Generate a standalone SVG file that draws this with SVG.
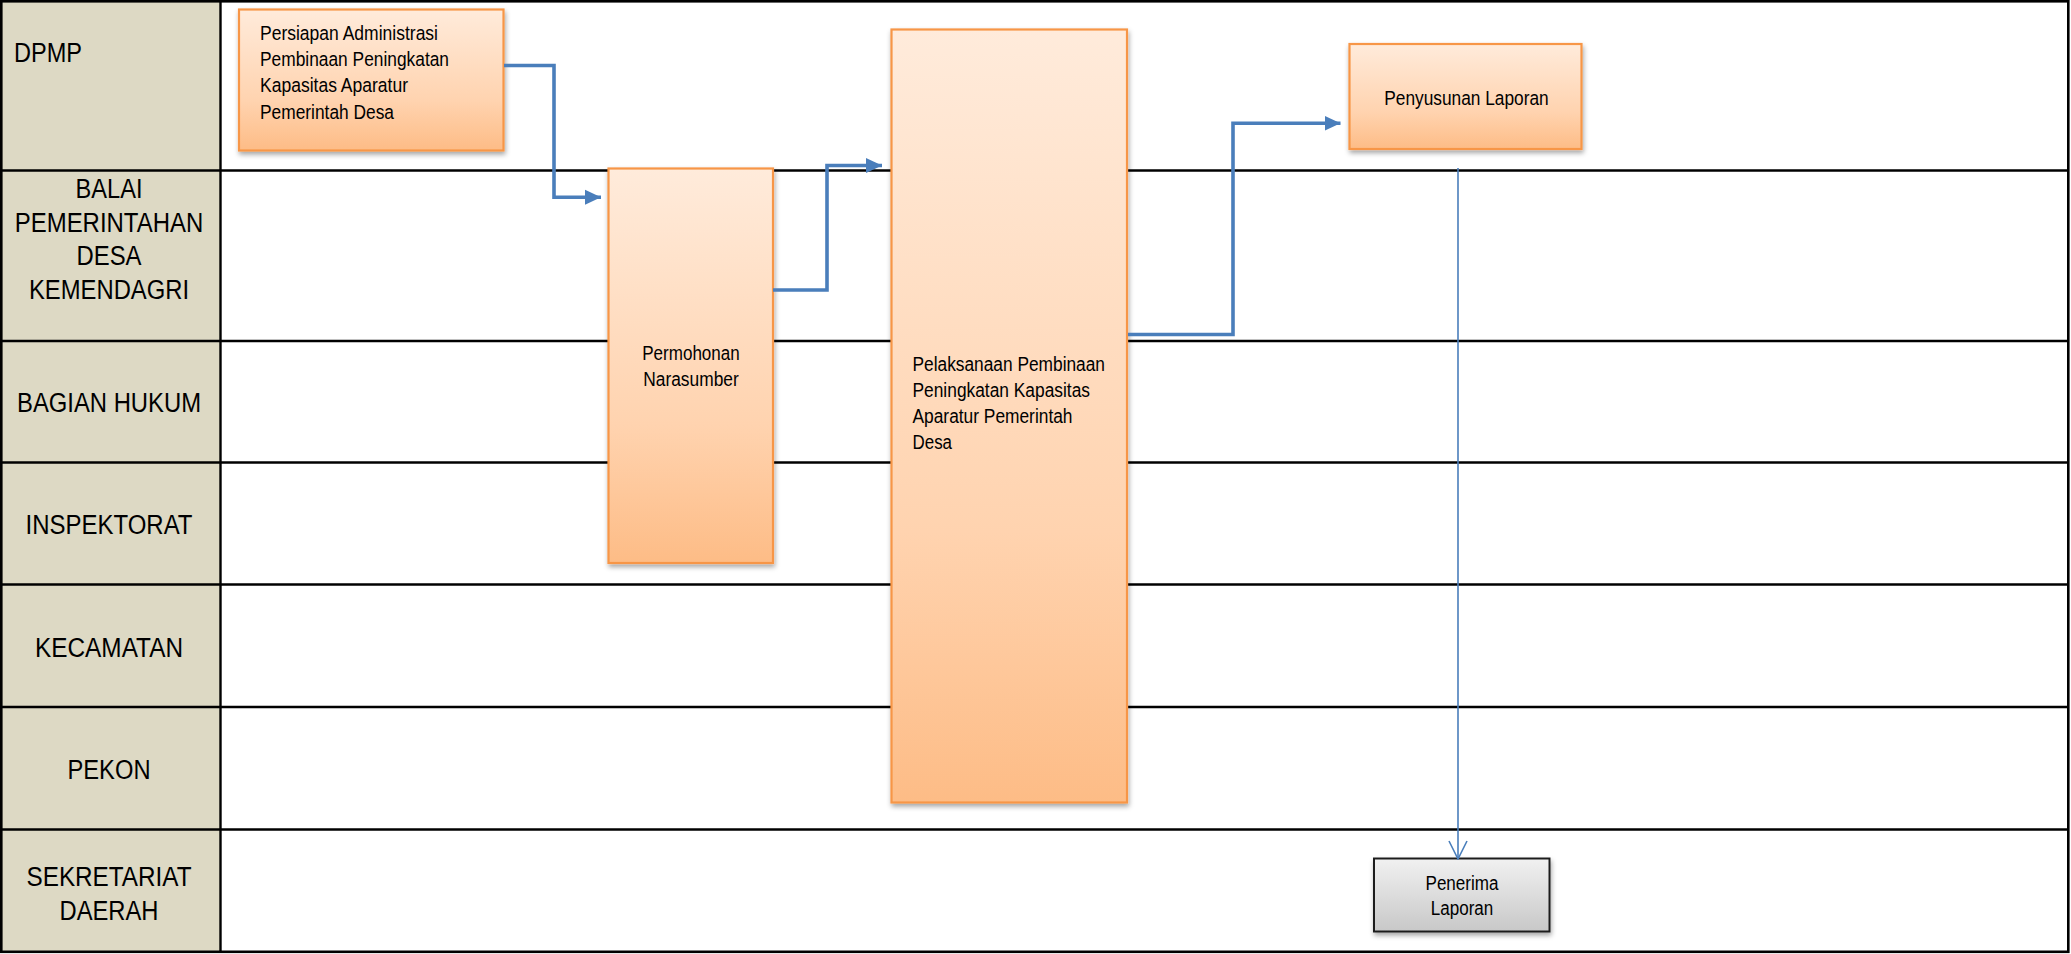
<svg xmlns="http://www.w3.org/2000/svg" width="2071" height="954" viewBox="0 0 2071 954">
<style>
.lane{font-family:"Liberation Sans",Arial,sans-serif;font-size:27px;fill:#000}
.bt{font-family:"Liberation Sans",Arial,sans-serif;font-size:19.5px;fill:#000}
.bl{font-size:20.5px}
.ob{fill:url(#og);stroke:#F79646;stroke-width:2.2}
.gb{fill:url(#gg);stroke:#1e1e1e;stroke-width:2}
.sep{stroke:#000;stroke-width:2.4}
.flow{fill:none;stroke:#4A7EBB;stroke-width:3.6;stroke-linejoin:miter}
.thin{fill:none;stroke:#4A7EBB;stroke-width:1.6}
</style>
<defs>
<linearGradient id="og" x1="0" y1="0" x2="0" y2="1">
<stop offset="0" stop-color="#FFEBDB"/>
<stop offset="0.65" stop-color="#FFD3AF"/>
<stop offset="1" stop-color="#FDBC86"/>
</linearGradient>
<linearGradient id="gg" x1="0" y1="0" x2="0" y2="1">
<stop offset="0" stop-color="#F1F1F1"/>
<stop offset="1" stop-color="#C8C8C8"/>
</linearGradient>
<filter id="sh" x="-10%" y="-10%" width="125%" height="125%">
<feDropShadow dx="1" dy="3" stdDeviation="2.5" flood-color="#000" flood-opacity="0.35"/>
</filter>
<marker id="af" viewBox="0 0 16 16" refX="16" refY="8" markerUnits="userSpaceOnUse" markerWidth="16" markerHeight="16" orient="auto">
<path d="M0,0.5 L16,8 L0,15.5 Z" fill="#4A7EBB"/>
</marker>
<marker id="ao" viewBox="0 0 20 20" refX="19" refY="10" markerUnits="userSpaceOnUse" markerWidth="20" markerHeight="20" orient="auto">
<path d="M1,1 L19,10 L1,19" fill="none" stroke="#4A7EBB" stroke-width="1.6"/>
</marker>
</defs>
<rect x="0" y="0" width="2071" height="954" fill="#fff"/>
<g id="lanes">
<rect x="1" y="1" width="219.5" height="950" fill="#DDD9C4"/>
<line class="sep" x1="0" y1="170.5" x2="2069" y2="170.5"/>
<line class="sep" x1="0" y1="341" x2="2069" y2="341"/>
<line class="sep" x1="0" y1="462.5" x2="2069" y2="462.5"/>
<line class="sep" x1="0" y1="584.5" x2="2069" y2="584.5"/>
<line class="sep" x1="0" y1="707" x2="2069" y2="707"/>
<line class="sep" x1="0" y1="829.5" x2="2069" y2="829.5"/>
<line class="sep" x1="220.5" y1="0" x2="220.5" y2="953"/>
<rect x="1.3" y="1.3" width="2067" height="950.5" fill="none" stroke="#000" stroke-width="2.6"/>
<text class="lane" x="14" y="62" textLength="68" lengthAdjust="spacingAndGlyphs">DPMP</text>
<g text-anchor="middle">
<text class="lane" x="109" y="198" textLength="67" lengthAdjust="spacingAndGlyphs">BALAI</text>
<text class="lane" x="109" y="231.5" textLength="188.5" lengthAdjust="spacingAndGlyphs">PEMERINTAHAN</text>
<text class="lane" x="109" y="265" textLength="65" lengthAdjust="spacingAndGlyphs">DESA</text>
<text class="lane" x="109" y="299" textLength="160" lengthAdjust="spacingAndGlyphs">KEMENDAGRI</text>
<text class="lane" x="109" y="412" textLength="184" lengthAdjust="spacingAndGlyphs">BAGIAN HUKUM</text>
<text class="lane" x="109" y="534" textLength="167" lengthAdjust="spacingAndGlyphs">INSPEKTORAT</text>
<text class="lane" x="109" y="657" textLength="148" lengthAdjust="spacingAndGlyphs">KECAMATAN</text>
<text class="lane" x="109" y="779" textLength="83" lengthAdjust="spacingAndGlyphs">PEKON</text>
<text class="lane" x="109" y="886" textLength="165" lengthAdjust="spacingAndGlyphs">SEKRETARIAT</text>
<text class="lane" x="109" y="919.5" textLength="99" lengthAdjust="spacingAndGlyphs">DAERAH</text>
</g>
</g>
<g id="node-persiapan">
<rect class="ob" x="239" y="9.5" width="264.5" height="141" filter="url(#sh)"/>
<text class="bt bl" x="260" y="39.5" textLength="178" lengthAdjust="spacingAndGlyphs">Persiapan Administrasi</text>
<text class="bt bl" x="260" y="66" textLength="189" lengthAdjust="spacingAndGlyphs">Pembinaan Peningkatan</text>
<text class="bt bl" x="260" y="92" textLength="148" lengthAdjust="spacingAndGlyphs">Kapasitas Aparatur</text>
<text class="bt bl" x="260" y="118.5" textLength="134" lengthAdjust="spacingAndGlyphs">Pemerintah Desa</text>
</g>
<g id="node-permohonan">
<rect class="ob" x="608.5" y="168.5" width="164.5" height="394.5" filter="url(#sh)"/>
<g text-anchor="middle">
<text class="bt" x="691" y="360" textLength="97.5" lengthAdjust="spacingAndGlyphs">Permohonan</text>
<text class="bt" x="691" y="385.5" textLength="95.5" lengthAdjust="spacingAndGlyphs">Narasumber</text>
</g>
</g>
<g id="node-pelaksanaan">
<rect class="ob" x="891.5" y="29.5" width="235.5" height="773" filter="url(#sh)"/>
<text class="bt" x="912.5" y="370.5" textLength="192.5" lengthAdjust="spacingAndGlyphs">Pelaksanaan Pembinaan</text>
<text class="bt" x="912.5" y="396.5" textLength="177.5" lengthAdjust="spacingAndGlyphs">Peningkatan Kapasitas</text>
<text class="bt" x="912.5" y="422.5" textLength="160" lengthAdjust="spacingAndGlyphs">Aparatur Pemerintah</text>
<text class="bt" x="912.5" y="449" textLength="39.5" lengthAdjust="spacingAndGlyphs">Desa</text>
</g>
<g id="node-penyusunan">
<rect class="ob" x="1349.5" y="44" width="232" height="105" filter="url(#sh)"/>
<text class="bt bl" x="1466.5" y="105" text-anchor="middle" textLength="164.5" lengthAdjust="spacingAndGlyphs">Penyusunan Laporan</text>
</g>
<g id="node-penerima">
<rect class="gb" x="1374" y="858.5" width="175.5" height="73" filter="url(#sh)"/>
<g text-anchor="middle">
<text class="bt" x="1462" y="890" textLength="73" lengthAdjust="spacingAndGlyphs">Penerima</text>
<text class="bt" x="1462" y="914.5" textLength="62.5" lengthAdjust="spacingAndGlyphs">Laporan</text>
</g>
</g>
<g id="connectors">
<path class="flow" d="M504,65.5 H554 V197.3 H601" marker-end="url(#af)"/>
<path class="flow" d="M773,290 H827 V165.5 H882" marker-end="url(#af)"/>
<path class="flow" d="M1128,334.5 H1233 V123.3 H1340.5" marker-end="url(#af)"/>
<path class="thin" d="M1458,168 V859" marker-end="url(#ao)"/>
</g>
</svg>
